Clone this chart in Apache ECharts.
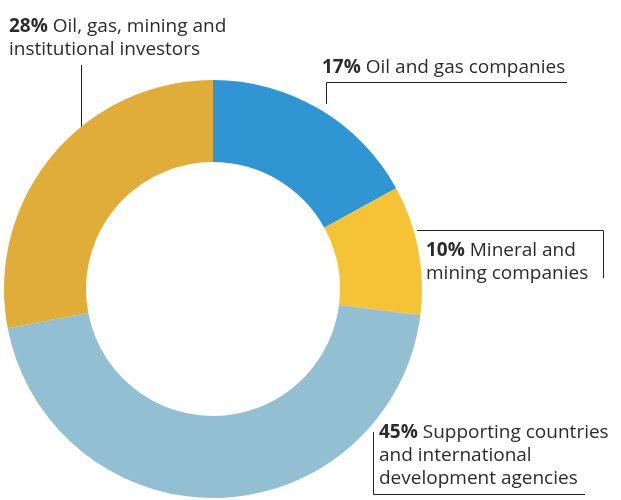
<!DOCTYPE html>
<html>
<head>
<meta charset="utf-8">
<script src="https://cdn.jsdelivr.net/npm/echarts@6/dist/echarts.min.js"></script>
<style>
html,body{margin:0;padding:0;background:#fff;}
#chart{width:621px;height:500px;}
</style>
</head>
<body>
<div id="chart"></div>
<script>
// Data
var categories = [
  'Oil and gas companies',
  'Mineral and\nmining companies',
  'Supporting countries\nand international\ndevelopment agencies',
  'Oil, gas, mining and\ninstitutional investors'
];
var shares = [17, 10, 45, 28];
var colors = ['#2f95d3', '#f5c436', '#93bfd2', '#e0ae38'];

// Label placement (layout only)
var labelPlaces = [
  {x: 322, y: 56, line: [[326.5, 104], [326.5, 82.5], [567, 82.5]]},
  {x: 426, y: 239, line: [[417, 230.5], [603.5, 230.5], [603.5, 278]]},
  {x: 379, y: 421, line: [[373.5, 432], [373.5, 494.5], [585, 494.5]]},
  {x: 9, y: 15, line: [[81.5, 128], [81.5, 96], [81.5, 65]]}
];

var FONT = '"Open Sans"';
var chart = echarts.init(document.getElementById('chart'), null, {renderer: 'canvas'});
chart.setOption({
  animation: false,
  backgroundColor: '#ffffff',
  series: [{
    type: 'pie',
    center: [213, 289],
    radius: [127, 209],
    startAngle: 90,
    clockwise: true,
    silent: true,
    data: categories.map(function (c, i) {
      return {name: c, value: shares[i], itemStyle: {color: colors[i]}};
    }),
    label: {
      show: true,
      position: 'outside',
      color: '#2b2b2b',
      fontFamily: FONT,
      fontSize: 19,
      lineHeight: 23,
      align: 'left',
      width: 320,
      overflow: 'none',
      formatter: function (p) {
        var lines = p.name.split('\n');
        lines[0] = '{b|' + p.value + '%} ' + lines[0];
        return lines.join('\n');
      },
      rich: {
        b: {fontWeight: 'bold', fontFamily: FONT, fontSize: 19, lineHeight: 23, color: '#2b2b2b'}
      }
    },
    labelLine: {
      show: true,
      length: 10,
      length2: 10,
      smooth: false,
      lineStyle: {color: '#222222', width: 1}
    },
    labelLayout: function (params) {
      var pl = labelPlaces[params.dataIndex];
      return {
        x: pl.x,
        y: pl.y,
        align: 'left',
        verticalAlign: 'top',
        labelLinePoints: pl.line
      };
    }
  }]
});
</script>
</body>
</html>
